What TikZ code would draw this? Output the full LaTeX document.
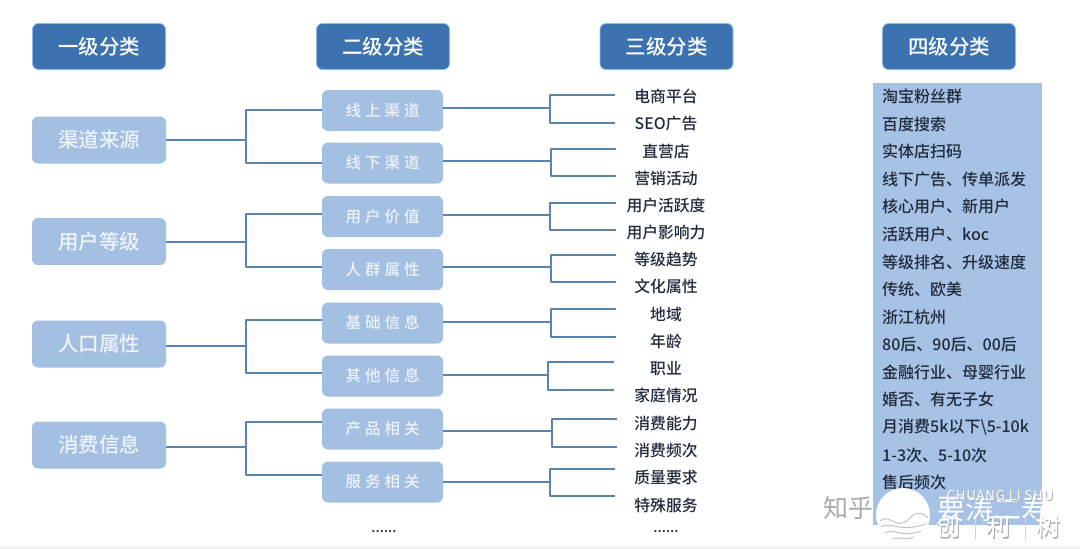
\documentclass[tikz,border=0pt]{standalone}
\usepackage{fontspec}
\setmainfont{Noto Sans CJK SC}
\newfontfamily\cjkmed{Noto Sans CJK SC Medium}
\definecolor{headblue}{HTML}{3D72B0}
\definecolor{headedge}{HTML}{8FBBE6}
\definecolor{boxblue}{HTML}{A3C0E3}
\definecolor{panelblue}{HTML}{A6C2E5}
\definecolor{linkblue}{HTML}{5B83B0}
\definecolor{inkdark}{HTML}{1F2A3A}
\definecolor{boxtext}{HTML}{EEF3FA}
\definecolor{stripgrey}{HTML}{F1F2F4}
\definecolor{wmgrey}{HTML}{A8ABB0}
\tikzset{
  headbox/.style={draw=headedge,line width=.8pt,fill=headblue,rounded corners=6pt,minimum width=133pt,minimum height=46pt,inner sep=0,text=white,font=\cjkmed\fontsize{20.5}{20}\selectfont},
  lonebox/.style={fill=boxblue,rounded corners=6pt,minimum width=134pt,minimum height=47pt,inner sep=0,text=boxtext,font=\cjkmed\fontsize{20.5}{20}\selectfont},
  ltwobox/.style={fill=boxblue,rounded corners=6pt,minimum width=121pt,minimum height=41pt,inner sep=0,text=boxtext,font=\cjkmed\fontsize{15.5}{16}\selectfont},
  lthree/.style={minimum width=100pt,inner sep=0,text=inkdark,font=\cjkmed\fontsize{15.8}{16}\selectfont},
  lfour/.style={anchor=west,inner sep=0,text=inkdark,font=\cjkmed\fontsize{16}{16}\selectfont},
  dotsnode/.style={inner sep=0,text=inkdark,font=\cjkmed\fontsize{14}{14}\selectfont},
  link/.style={draw=linkblue,line width=1.8pt,line join=round},
  wmname/.style={inner sep=0,text=wmgrey,font=\fontsize{25}{25}\selectfont},
  wmbig/.style={inner sep=0,text=white,font=\fontsize{28}{28}\selectfont},
  wmsmall/.style={inner sep=0,text=white,font=\fontsize{13.5}{14}\selectfont\addfontfeature{LetterSpace=5}},
  wmshade/.style={inner sep=0,text=wmgrey},
  wave/.style={draw=wmgrey!70,line width=1pt},
}
\newcommand{\gp}{\hspace{4pt}}
% source node, top target, bottom target, junction x, source y, top y, bottom y
\newcommand{\forkone}[7]{%
  \draw[link] (#1.east |- 0,#5) -- (#4,#5);
  \draw[link] (#2.west |- 0,#6) -- (#4,#6) -- (#4,#7) -- (#3.west |- 0,#7);
}
% the same, with an end shift in the last argument
\newcommand{\forktwo}[8]{%
  \draw[link] (#1.east |- 0,#5) -- (#4,#5);
  \draw[link] ([xshift=#8pt]#2.west |- 0,#6) -- (#4,#6) -- (#4,#7) -- ([xshift=#8pt]#3.west |- 0,#7);
}
\begin{document}
\begin{tikzpicture}[x=1pt,y=-1pt]
\useasboundingbox (0,0) rectangle (1080,549);
\fill[white] (0,0) rectangle (1080,549);
\fill[stripgrey] (0,546) rectangle (1080,549);

% headers
\node[headbox] (h1) at (99,46.5) {一级分类};
\node[headbox] (h2) at (383,46.5) {二级分类};
\node[headbox] (h3) at (666.5,46.5) {三级分类};
\node[headbox] (h4) at (949,46.5) {四级分类};

% first level
\node[lonebox] (a1) at (99,140) {渠道来源};
\node[lonebox] (a2) at (99,241.5) {用户等级};
\node[lonebox] (a3) at (99,344) {人口属性};
\node[lonebox] (a4) at (99,445) {消费信息};

% second level
\node[ltwobox] (b1) at (382.5,110.5) {线\gp 上\gp 渠\gp 道};
\node[ltwobox] (b2) at (382.5,163) {线\gp 下\gp 渠\gp 道};
\node[ltwobox] (b3) at (382.5,216.5) {用\gp 户\gp 价\gp 值};
\node[ltwobox] (b4) at (382.5,269.5) {人\gp 群\gp 属\gp 性};
\node[ltwobox] (b5) at (382.5,323) {基\gp 础\gp 信\gp 息};
\node[ltwobox] (b6) at (382.5,376) {其\gp 他\gp 信\gp 息};
\node[ltwobox] (b7) at (382.5,429) {产\gp 品\gp 相\gp 关};
\node[ltwobox] (b8) at (382.5,482) {服\gp 务\gp 相\gp 关};

% third level
\node[lthree] (c1) at (666,96.5) {电商平台};
\node[lthree] (c2) at (666,123.5) {SEO广告};
\node[lthree] (c3) at (666,151.5) {直营店};
\node[lthree] (c4) at (666,178.5) {营销活动};
\node[lthree] (c5) at (666,205.5) {用户活跃度};
\node[lthree] (c6) at (666,232.5) {用户影响力};
\node[lthree] (c7) at (666,259.5) {等级趋势};
\node[lthree] (c8) at (666,286.5) {文化属性};
\node[lthree] (c9) at (666,314.5) {地域};
\node[lthree] (c10) at (666,341.5) {年龄};
\node[lthree] (c11) at (666,368.5) {职业};
\node[lthree] (c12) at (666,395.5) {家庭情况};
\node[lthree] (c13) at (666,423.5) {消费能力};
\node[lthree] (c14) at (666,450.5) {消费频次};
\node[lthree] (c15) at (666,477.5) {质量要求};
\node[lthree] (c16) at (666,505.5) {特殊服务};

\node[dotsnode] (d1) at (384,531.5) {......};
\node[dotsnode] (d2) at (666,531.5) {......};

% fourth level
\fill[panelblue] (873,83) rectangle (1042,525);
\node[lfour] (e1) at (882,96.5) {淘宝粉丝群};
\node[lfour] (e2) at (882,124.5) {百度搜索};
\node[lfour] (e3) at (882,151.5) {实体店扫码};
\node[lfour] (e4) at (882,179.5) {线下广告、传单派发};
\node[lfour] (e5) at (882,206.5) {核心用户、新用户};
\node[lfour] (e6) at (882,234.5) {活跃用户、koc};
\node[lfour] (e7) at (882,262.5) {等级排名、升级速度};
\node[lfour] (e8) at (882,289.5) {传统、欧美};
\node[lfour] (e9) at (882,317.5) {浙江杭州};
\node[lfour] (e10) at (882,344.5) {80后、90后、00后};
\node[lfour] (e11) at (882,372.5) {金融行业、母婴行业};
\node[lfour] (e12) at (882,399.5) {婚否、有无子女};
\node[lfour] (e13) at (882,427.5) {月消费5k以下\textbackslash 5-10k};
\node[lfour] (e14) at (882,455.5) {1-3次、5-10次};
\node[lfour] (e15) at (882,482.5) {售后频次};

% connectors, first to second level
\forkone{a1}{b1}{b2}{246}{140}{110}{163}
\forkone{a2}{b3}{b4}{246}{242}{214}{267}
\forkone{a3}{b5}{b6}{246}{346}{320}{373}
\forkone{a4}{b7}{b8}{246}{447}{422}{475}

% connectors, second to third level
\forktwo{b1}{c1}{c2}{550}{108}{95}{123}{-1}
\forktwo{b2}{c3}{c4}{551}{161}{149}{176}{0}
\forktwo{b3}{c5}{c6}{550}{215}{203}{230}{0}
\forktwo{b4}{c7}{c8}{551}{267}{255}{282}{0}
\forktwo{b5}{c9}{c10}{551}{322}{309}{337}{0}
\forktwo{b6}{c11}{c12}{548}{375}{362}{390}{-2}
\forktwo{b7}{c13}{c14}{552}{431}{419}{447}{1}
\forktwo{b8}{c15}{c16}{550}{482}{469}{496}{-1}

% watermark
\node[wmname] (w1) at (848,508) {知乎};
\fill[white] (903,515) circle (27);
\draw[wave] (880,521) .. controls (890,513) and (895,530) .. (908,520) .. controls (914,513) and (920,510) .. (928,518);
\draw[wave] (881,527) .. controls (891,521) and (899,533) .. (926,524);
\draw[wave] (885,533) .. controls (893,528) and (903,538) .. (921,531);
\draw[wave] (892,539) .. controls (898,536) and (906,541) .. (914,537);
\foreach \px/\py/\ch in {948/526/创,998/526/利,1048/526/树}{
  \node[wmshade,font=\fontsize{24}{24}\selectfont] at (\px+1,\py+2) {\ch};
  \node[inner sep=0,text=white,font=\fontsize{24}{24}\selectfont] at (\px,\py) {\ch};
}
\draw[wmgrey!50,line width=.8pt] (975,512) -- (975,540);
\draw[wmgrey!50,line width=.8pt] (1025,512) -- (1025,540);
\node[wmbig] (w2) at (993,509) {要涛二寿};
\node[wmsmall,text=wmgrey] at (1001,496.7) {CHUANG LI SHU};
\node[wmsmall] (w3) at (1000,495.7) {CHUANG LI SHU};
\end{tikzpicture}
\end{document}
